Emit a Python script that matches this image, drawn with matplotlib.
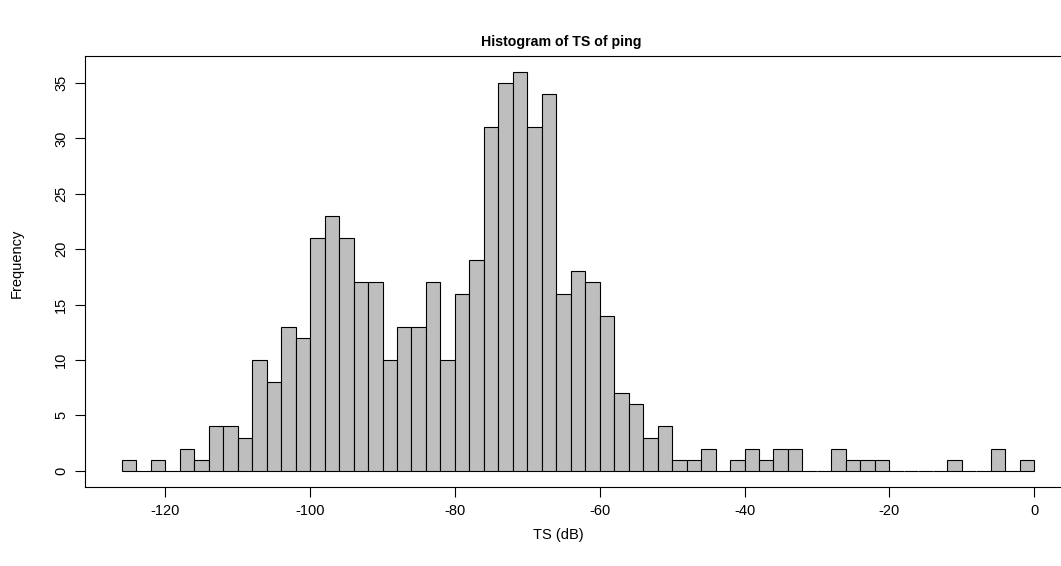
import numpy as np
import matplotlib
matplotlib.use("Agg")
import matplotlib.pyplot as plt

plt.rcParams['font.family'] = ['Liberation Sans', 'DejaVu Sans']

# Histogram bins (2 dB wide) and counts
bin_starts = list(range(-126, 0, 2))
counts = [1, 0, 1, 0, 2, 1, 4, 4, 3, 10,
          8, 13, 12, 21, 23, 21, 17, 17, 10, 13,
          13, 17, 10, 16, 19, 31, 35, 36, 31, 34,
          16, 18, 17, 14, 7, 6, 3, 4, 1, 1,
          2, 0, 1, 2, 1, 2, 2, 0, 0, 2,
          1, 1, 1, 0, 0, 0, 0, 1, 0, 0,
          2, 0, 1]
bin_width = 2
x_ticks = [-120, -100, -80, -60, -40, -20, 0]
y_ticks = [0, 5, 10, 15, 20, 25, 30, 35]
title = "Histogram of TS of ping"
xlabel = "TS (dB)"
ylabel = "Frequency"

W, H = 1061, 566
fig = plt.figure(figsize=(W / 100, H / 100), dpi=100)
left, right, top, bottom = 85.4, 1070.6, 56, 486.7
ax = fig.add_axes([left / W, 1 - bottom / H, (right - left) / W, (bottom - top) / H])

ax.bar(bin_starts, counts, width=bin_width, align='edge',
       color='#BEBEBE', edgecolor='black', linewidth=0.8)

xmin, xmax = bin_starts[0], bin_starts[-1] + bin_width
ext = 0.04 * (xmax - xmin)
ax.set_xlim(xmin - ext, xmax + ext)
ymax = max(counts)
ax.set_ylim(-0.04 * ymax, ymax * 1.04)

ax.set_xticks(x_ticks)
ax.set_xticklabels([str(t) for t in x_ticks])
ax.set_yticks(y_ticks)
ax.set_yticklabels([str(t) for t in y_ticks], rotation=90, va='center')
ax.tick_params(direction='out', length=7, width=0.8, labelsize=10.5, pad=5.5)

for s in ax.spines.values():
    s.set_linewidth(0.8)

fig.text(561 / W, 1 - 42 / H, title, ha='center', va='center',
         fontsize=10.2, fontweight='bold')
fig.text(558 / W, 1 - 535 / H, xlabel, ha='center', va='center', fontsize=10.5)
fig.text(17 / W, 1 - 263 / H, ylabel, ha='center', va='center', fontsize=10.5,
         rotation=90)

fig.savefig("out.png", dpi=100)
